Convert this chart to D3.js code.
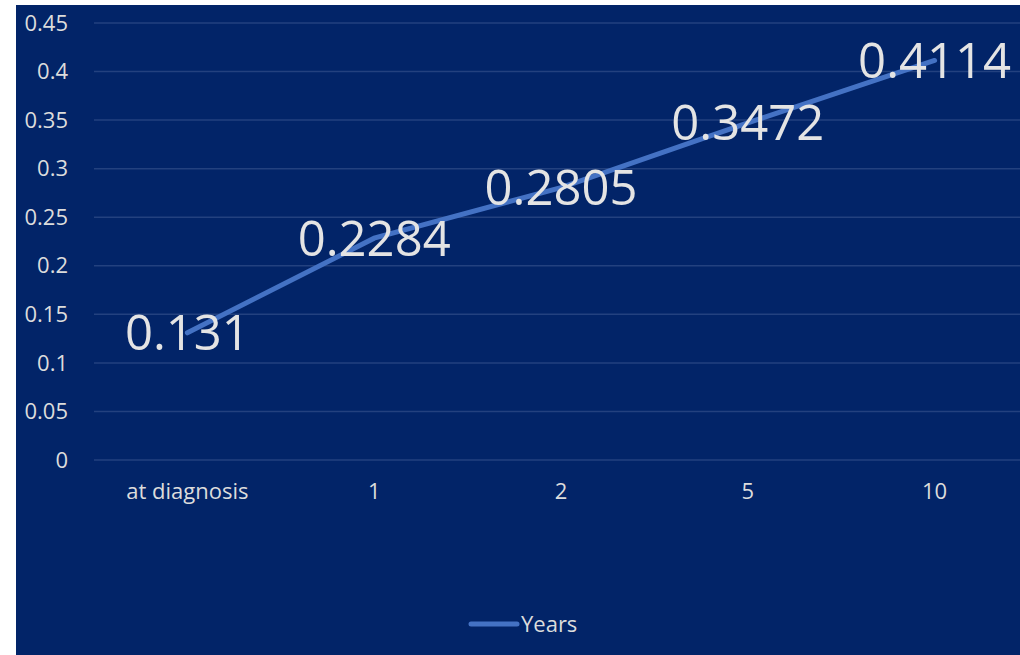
<!DOCTYPE html>
<html>
<head>
<meta charset="utf-8">
<script src="https://cdn.jsdelivr.net/npm/d3@7"></script>
<style>
  body { margin: 0; background: #fff; }
  svg { display: block; }
</style>
</head>
<body>
<div id="chart"></div>
<script>
// data
let categories = ["at diagnosis", "1", "2", "5", "10"];
let values = [0.131, 0.2284, 0.2805, 0.3472, 0.4114];
let yTicks = [0, 0.05, 0.1, 0.15, 0.2, 0.25, 0.3, 0.35, 0.4, 0.45];
let seriesName = "Years";

let width = 1020, height = 655;
let margin = {top: 23, right: -8, bottom: 195, left: 94};

let svg = d3.select("#chart").append("svg")
    .attr("width", width)
    .attr("height", height);

// navy panel
svg.append("rect")
    .attr("x", 16).attr("y", 5)
    .attr("width", width - 16).attr("height", height - 5)
    .attr("fill", "#022468");

let x = d3.scaleBand()
    .domain(categories)
    .range([margin.left, width - margin.right]);

let y = d3.scaleLinear()
    .domain([0, 0.45])
    .range([height - margin.bottom, margin.top]);

// gridlines
svg.append("g")
    .selectAll("line")
    .data(yTicks)
    .enter().append("line")
    .attr("x1", margin.left)
    .attr("x2", width)
    .attr("y1", d => y(d))
    .attr("y2", d => y(d))
    .attr("stroke", "#23417f")
    .attr("stroke-width", 1.5);

// y tick labels
svg.append("g")
    .selectAll("text")
    .data(yTicks)
    .enter().append("text")
    .attr("x", 68)
    .attr("y", d => y(d))
    .attr("dy", "0.35em")
    .attr("text-anchor", "end")
    .attr("fill", "#dcdcdc")
    .style("font-family", "'Open Sans', 'Noto Sans', sans-serif")
    .style("font-size", "22px")
    .text(d => d);

// x tick labels
svg.append("g")
    .selectAll("text")
    .data(categories)
    .enter().append("text")
    .attr("x", d => x(d) + x.bandwidth() / 2)
    .attr("y", 499)
    .attr("text-anchor", "middle")
    .attr("fill", "#dcdcdc")
    .style("font-family", "'Open Sans', 'Noto Sans', sans-serif")
    .style("font-size", "22px")
    .text(d => d);

// the line
let line = d3.line()
    .x((d, i) => x(categories[i]) + x.bandwidth() / 2)
    .y(d => y(d));

svg.append("path")
    .datum(values)
    .attr("d", line)
    .attr("fill", "none")
    .attr("stroke", "#4472c4")
    .attr("stroke-width", 5)
    .attr("stroke-linecap", "round");

// data labels, centred on the points
svg.append("g")
    .selectAll("text")
    .data(values)
    .enter().append("text")
    .attr("x", (d, i) => x(categories[i]) + x.bandwidth() / 2)
    .attr("y", d => y(d))
    .attr("dy", "0.36em")
    .attr("text-anchor", "middle")
    .attr("fill", "#e4e4e4")
    .style("font-family", "'Open Sans', 'Noto Sans', sans-serif")
    .style("font-size", "49px")
    .text(d => d);

// legend
let legend = svg.append("g");
legend.append("line")
    .attr("x1", 471).attr("x2", 517)
    .attr("y1", 624).attr("y2", 624)
    .attr("stroke", "#4472c4")
    .attr("stroke-width", 5)
    .attr("stroke-linecap", "round");
legend.append("text")
    .attr("x", 521)
    .attr("y", 632)
    .attr("fill", "#dcdcdc")
    .style("font-family", "'Open Sans', 'Noto Sans', sans-serif")
    .style("font-size", "22px")
    .text(seriesName);
</script>
</body>
</html>
